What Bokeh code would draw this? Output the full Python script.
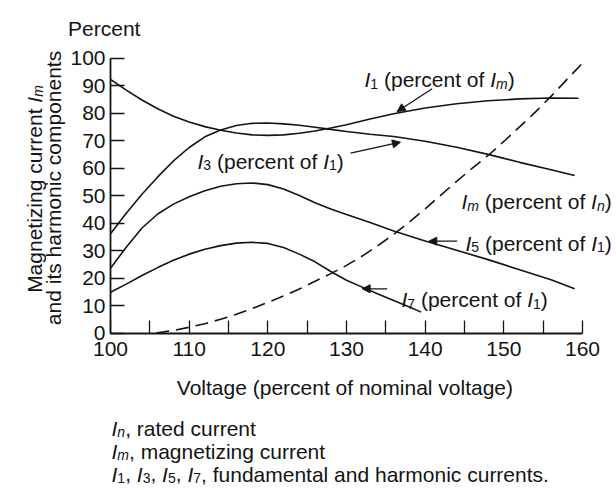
from bokeh.plotting import figure
from bokeh.models import Range1d, FixedTicker, Label, Arrow, NormalHead
from bokeh.embed import file_html
from bokeh.resources import INLINE
import math

# ---------------- data ----------------
volt_i1 = [100, 102, 104, 106, 108, 110, 112, 114, 116, 118, 120, 122, 124, 126, 128, 130, 133, 136, 140, 144, 148, 152, 156, 159.5]
i1_pct_im = [92.3, 88.4, 84.8, 81.6, 78.9, 76.8, 75.1, 73.8, 72.8, 72.1, 71.9, 72.1, 72.7, 73.5, 74.6, 75.8, 77.9, 79.8, 81.9, 83.4, 84.5, 85.2, 85.5, 85.4]

volt_i3 = [100, 102, 104, 106, 108, 110, 112, 114, 116, 118, 120, 122, 124, 126, 128, 130, 133, 136, 140, 144, 148, 152, 156, 159]
i3_pct_i1 = [36.1, 43.6, 50.5, 56.8, 62.6, 67.5, 71.4, 73.9, 75.5, 76.3, 76.4, 76.1, 75.6, 74.9, 74.1, 73.3, 72.3, 71.5, 69.8, 67.6, 65.0, 62.1, 59.4, 57.3]

volt_i5 = [100, 102, 104, 106, 108, 110, 112, 114, 116, 118, 120, 122, 124, 126, 128, 130, 133, 136, 140, 144, 148, 152, 156, 159]
i5_pct_i1 = [23.6, 31.2, 38.2, 43.3, 46.9, 49.6, 51.8, 53.4, 54.3, 54.6, 54.0, 52.4, 50.0, 47.4, 45.1, 43.1, 40.2, 37.1, 33.5, 30.1, 26.7, 23.0, 19.4, 16.1]

volt_i7 = [100, 102, 104, 106, 108, 110, 112, 114, 116, 118, 120, 122, 124, 126, 128, 130, 132, 134, 136, 138, 139.5]
i7_pct_i1 = [14.8, 17.8, 20.9, 23.8, 26.5, 28.7, 30.5, 31.8, 32.7, 33.0, 32.6, 31.1, 28.7, 25.9, 22.4, 19.2, 16.7, 14.2, 11.8, 9.5, 7.6]

volt_im = [105.8, 108, 110, 112, 114, 116, 118, 120, 122, 124, 126, 128, 130, 132, 134, 136, 138, 140, 142, 144, 146, 148, 150, 152, 154, 156, 158, 160.4]
im_pct_in = [0, 0.9, 2.1, 3.4, 5.0, 6.8, 8.9, 11.1, 13.5, 16.0, 18.8, 21.6, 24.6, 28.0, 31.8, 35.9, 40.4, 45.2, 50.2, 55.2, 60.0, 64.6, 69.7, 75.0, 80.4, 86.1, 92.2, 99.4]

x_major_ticks = [100, 110, 120, 130, 140, 150, 160]
x_minor_ticks = [105, 115, 125, 135, 145, 155]
y_ticks = [0, 10, 20, 30, 40, 50, 60, 70, 80, 90, 100]

# annotation arrows: (x_start, y_start, x_tip, y_tip) in data units
arrow_i1 = (140.89, 88.87, 136.44, 80.60)
arrow_i3 = (130.51, 65.43, 136.86, 69.43)
arrow_i5 = (144.07, 33.41, 140.46, 33.41)
arrow_i7 = (135.17, 16.08, 131.99, 16.08)

# ---------------- styling / layout ----------------
FONT = "Liberation Sans"
INK = "#141414"
BIG = 21
SUB = 14
SUB_DROP = 4

W, H = 616, 490
# pixel positions of the axis box inside the canvas
AX_LEFT, AX_RIGHT, AX_TOP, AX_BOTTOM = 110.0, 582.0, 57.7, 332.5
X0, X1, Y0, Y1 = 100, 160, 0, 100
PX_X = (AX_RIGHT - AX_LEFT) / (X1 - X0)
PX_Y = (AX_BOTTOM - AX_TOP) / (Y1 - Y0)

x_lo = X0 - AX_LEFT / PX_X
x_hi = X0 + (W - AX_LEFT) / PX_X
y_lo = Y0 - (H - AX_BOTTOM) / PX_Y
y_hi = Y0 + AX_BOTTOM / PX_Y

# Arial / Liberation Sans advance widths (per 1000 em)
WID = {" ": 278, "(": 333, ")": 333, ",": 278, ".": 278}
for d in "0123456789":
    WID[d] = 556
WID.update({"I": 278, "M": 833, "P": 667, "V": 667})
WID.update(dict(zip("abcdefghijklmnopqrstuvwxyz",
                    [556, 556, 500, 556, 556, 278, 556, 556, 222, 222, 500, 222, 833,
                     556, 556, 556, 556, 333, 500, 278, 556, 500, 722, 500, 500, 500])))


def text_width(s, size):
    return sum(WID.get(c, 556) for c in s) * size / 1000.0


p = figure(width=W, height=H, x_range=Range1d(x_lo, x_hi), y_range=Range1d(y_lo, y_hi),
           output_backend="svg", toolbar_location=None,
           min_border_left=0, min_border_right=0, min_border_top=0, min_border_bottom=0)
p.outline_line_color = None
p.grid.visible = False
p.background_fill_color = "white"
p.border_fill_color = "white"


def rich(x, y, parts, angle=0.0, align="left"):
    items = []
    for t, k in parts:
        size = SUB if "sub" in k else BIG
        items.append((t, k, size, text_width(t, size)))
    total = sum(it[3] for it in items)
    cum = -total / 2.0 if align == "center" else 0.0
    for t, k, size, w in items:
        stripped = t.strip()
        lead = text_width(t[:len(t) - len(t.lstrip())], size)
        drop = SUB_DROP if "sub" in k else 0
        along = cum + lead
        if angle == 0:
            lx = x + along / PX_X
            ly = y - drop / PX_Y
        else:
            lx = x + drop / PX_X
            ly = y + along / PX_Y
        if stripped:
            p.add_layout(Label(x=lx, y=ly, text=stripped, angle=angle,
                               text_font=FONT, text_font_size=f"{size}px",
                               text_font_style="italic" if k in ("i", "isub") else "normal",
                               text_align="left", text_baseline="alphabetic",
                               text_color=INK))
        cum += w


# curves
LW = 1.6
p.line(volt_i1, i1_pct_im, line_width=LW, line_color=INK)
p.line(volt_i3, i3_pct_i1, line_width=LW, line_color=INK)
p.line(volt_i5, i5_pct_i1, line_width=LW, line_color=INK)
p.line(volt_i7, i7_pct_i1, line_width=LW, line_color=INK)
p.line(volt_im, im_pct_in, line_width=LW, line_color=INK, line_dash="13 7")

# axes (pinned at the data origin of the chart box)
xa = p.xaxis[0]
xa.fixed_location = Y0
xa.bounds = (X0, X1)
xa.ticker = FixedTicker(ticks=x_major_ticks, minor_ticks=x_minor_ticks)
xa.major_tick_in = 13
xa.major_tick_out = 0
xa.minor_tick_in = 13
xa.minor_tick_out = 0
xa.minor_tick_line_color = INK
xa.minor_tick_line_width = 1.3
xa.major_tick_line_width = 1.3
xa.major_tick_line_color = INK
xa.axis_line_width = 1.8
xa.axis_line_color = INK
xa.major_label_standoff = 9
xa.major_label_text_font = FONT
xa.major_label_text_font_size = f"{BIG}px"
xa.major_label_text_color = INK

ya = p.yaxis[0]
ya.fixed_location = X0
ya.bounds = (Y0, Y1)
ya.ticker = FixedTicker(ticks=y_ticks, minor_ticks=[])
ya.major_tick_in = 14
ya.major_tick_out = 0
ya.minor_tick_line_color = None
ya.major_tick_line_width = 1.3
ya.major_tick_line_color = INK
ya.axis_line_width = 1.8
ya.axis_line_color = INK
ya.major_label_standoff = 5
ya.major_label_text_font = FONT
ya.major_label_text_font_size = f"{BIG}px"
ya.major_label_text_color = INK

# arrows
for a in (arrow_i1, arrow_i3, arrow_i5, arrow_i7):
    p.add_layout(Arrow(end=NormalHead(size=8, fill_color=INK, line_color=INK, line_width=1),
                       x_start=a[0], y_start=a[1], x_end=a[2], y_end=a[3],
                       line_color=INK, line_width=1.3))

# texts
rich(94.60, 110.70, [("Percent", "r")])
rich(132.29, 92.07, [("I", "i"), ("1", "sub"), (" (percent of ", "r"), ("I", "i"), ("m", "isub"), (")", "r")])
rich(111.06, 62.41, [("I", "i"), ("3", "sub"), (" (percent of ", "r"), ("I", "i"), ("1", "sub"), (")", "r")])
rich(144.62, 47.85, [("I", "i"), ("m", "isub"), (" (percent of ", "r"), ("I", "i"), ("n", "isub"), (")", "r")])
rich(145.13, 32.75, [("I", "i"), ("5", "sub"), (" (percent of ", "r"), ("I", "i"), ("1", "sub"), (")", "r")])
rich(136.99, 12.19, [("I", "i"), ("7", "sub"), (" (percent of ", "r"), ("I", "i"), ("1", "sub"), (")", "r")])

# y-axis title (two rotated lines)
rich(90.32, 52.40, [("Magnetizing current ", "r"), ("I", "i"), ("m", "isub")], angle=math.pi / 2, align="center")
rich(92.72, 52.77, [("and its harmonic components", "r")], angle=math.pi / 2, align="center")

# x-axis title
rich(129.87, -19.8, [("Voltage (percent of nominal voltage)", "r")], align="center")

# footnotes
rich(100.13, -34.75, [("I", "i"), ("n", "isub"), (", rated current", "r")])
rich(100.13, -43.12, [("I", "i"), ("m", "isub"), (", magnetizing current", "r")])
rich(100.13, -51.49, [("I", "i"), ("1", "sub"), (", ", "r"), ("I", "i"), ("3", "sub"), (", ", "r"),
                      ("I", "i"), ("5", "sub"), (", ", "r"), ("I", "i"), ("7", "sub"),
                      (", fundamental and harmonic currents.", "r")])

open("out.html", "w").write(file_html(p, INLINE))
